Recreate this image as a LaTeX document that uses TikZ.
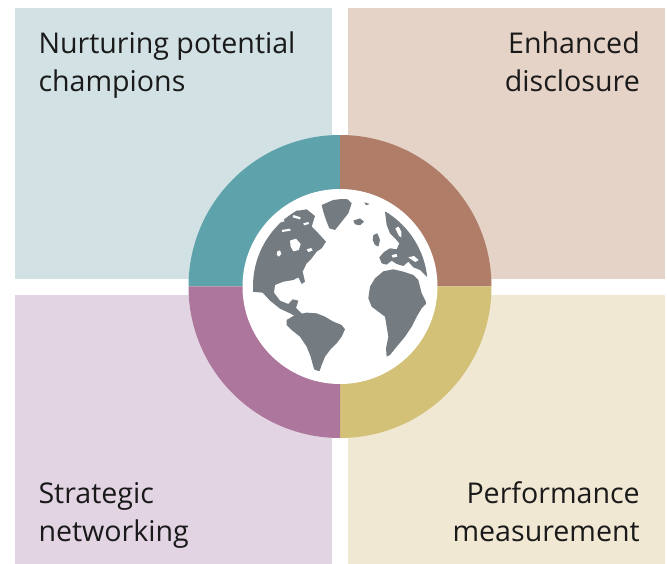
\documentclass[tikz,border=0pt]{standalone}
\usepackage{fontspec}
\setmainfont{Open Sans}
\definecolor{panelTL}{HTML}{D2E1E4}
\definecolor{panelTR}{HTML}{E5D3C7}
\definecolor{panelBL}{HTML}{E3D4E3}
\definecolor{panelBR}{HTML}{F1E8D4}
\definecolor{ringTL}{HTML}{5EA3AC}
\definecolor{ringTR}{HTML}{B07D68}
\definecolor{ringBL}{HTML}{AD779D}
\definecolor{ringBR}{HTML}{D3C177}
\definecolor{landgrey}{HTML}{747C82}
\definecolor{inkdark}{HTML}{1A1A1A}
\tikzset{
  label text/.style={inner sep=0pt, text=inkdark, font=\fontsize{28.6}{38.5}\selectfont},
  land/.style={fill=landgrey},
  sea/.style={fill=white},
}
\newcommand{\twolinesL}[2]{\begin{tabular}[t]{@{}l@{}}#1\\#2\end{tabular}}
\newcommand{\twolinesR}[2]{\begin{tabular}[t]{@{}r@{}}#1\\#2\end{tabular}}
\begin{document}
\begin{tikzpicture}[x=1pt,y=-1pt]
\useasboundingbox (0,0) rectangle (667,564);
\fill[white] (0,0) rectangle (667,564);

% four background panels
\fill[panelTL] (15,8) rectangle (332,279);
\fill[panelTR] (348,8) rectangle (665,279);
\fill[panelBL] (15,295) rectangle (332,564);
\fill[panelBR] (348,295) rectangle (665,564);

% ring of four quarter segments
\coordinate (ctr) at (340,286.5);
\def\rout{151.5}
\fill[ringTL] (ctr) -- ++(180:\rout) arc[start angle=180, end angle=270, radius=\rout] -- cycle;
\fill[ringTR] (ctr) -- ++(270:\rout) arc[start angle=270, end angle=360, radius=\rout] -- cycle;
\fill[ringBR] (ctr) -- ++(0:\rout) arc[start angle=0, end angle=90, radius=\rout] -- cycle;
\fill[ringBL] (ctr) -- ++(90:\rout) arc[start angle=90, end angle=180, radius=\rout] -- cycle;
\fill[white] (ctr) circle[radius=97.5];

% globe
\begin{scope}[shift={(240,180)}, x=0.33333pt, y=-0.33333pt]
  \clip (301,319) circle[radius=262];
  % North America
  \fill[land] (0,60) -- (140,75) -- (175,92) -- (200,88) -- (225,108) -- (215,140)
    -- (235,160) -- (258,185) -- (245,205) -- (230,215) -- (215,235) -- (200,250)
    -- (188,275) -- (195,305) -- (185,312) -- (175,292) -- (160,300) -- (130,305)
    -- (105,315) -- (102,338) -- (120,362) -- (145,372) -- (158,358) -- (175,362)
    -- (168,384) -- (182,398) -- (196,410) -- (176,414) -- (150,400) -- (120,386)
    -- (90,362) -- (68,338) -- (0,332) -- cycle;
  % bays, straits and lakes
  \fill[sea] (150,182) -- (168,176) -- (182,192) -- (176,210) -- (160,214) -- (152,200) -- cycle;
  \fill[sea] (112,214) -- (120,211) -- (124,222) -- (116,230) -- (110,224) -- cycle;
  \fill[sea] (200,208) -- (214,204) -- (218,212) -- (205,216) -- cycle;
  \fill[sea] (100,125) -- (130,118) -- (134,124) -- (104,131) -- cycle;
  \fill[sea] (160,105) -- (182,112) -- (180,118) -- (158,112) -- cycle;
  \fill[sea] (190,130) -- (205,126) -- (207,132) -- (192,136) -- cycle;
  \fill[sea] (125,150) -- (150,146) -- (152,152) -- (127,156) -- cycle;
  % Greenland
  \fill[land] (245,75) -- (280,60) -- (320,55) -- (335,70) -- (325,100) -- (305,125)
    -- (285,150) -- (268,145) -- (258,120) -- (250,95) -- cycle;
  % Iceland and Svalbard
  \fill[land] (340,122) -- (360,115) -- (372,125) -- (360,136) -- (345,133) -- cycle;
  \fill[land] (372,65) -- (385,62) -- (390,72) -- (378,76) -- cycle;
  % Eurasia
  \fill[land] (435,95) -- (455,100) -- (475,120) -- (490,110) -- (520,110) -- (600,100)
    -- (600,300) -- (560,290) -- (540,270) -- (520,262) -- (505,245) -- (490,258)
    -- (470,252) -- (455,242) -- (440,254) -- (425,250) -- (418,232) -- (432,216)
    -- (450,205) -- (470,208) -- (478,190) -- (465,175) -- (450,160) -- (440,135) -- cycle;
  \fill[sea] (466,145) -- (476,140) -- (484,155) -- (484,172) -- (477,168) -- cycle;
  \fill[sea] (505,232) -- (522,228) -- (536,240) -- (526,246) -- cycle;
  \fill[sea] (455,225) -- (470,222) -- (472,230) -- (458,233) -- cycle;
  % British Isles
  \fill[land] (400,165) -- (412,160) -- (420,180) -- (415,200) -- (405,195) -- (398,180) -- cycle;
  % Africa
  \fill[land] (430,274) -- (460,268) -- (490,275) -- (520,285) -- (535,300) -- (545,340)
    -- (560,370) -- (545,385) -- (530,410) -- (515,440) -- (495,470) -- (470,500)
    -- (450,525) -- (440,530) -- (438,505) -- (445,470) -- (440,440) -- (435,410)
    -- (415,395) -- (395,380) -- (385,355) -- (390,320) -- (405,295) -- cycle;
  % South America
  \fill[land] (140,420) -- (165,405) -- (200,398) -- (230,400) -- (255,410) -- (280,425)
    -- (305,435) -- (315,448) -- (305,470) -- (290,490) -- (270,510) -- (255,530)
    -- (245,555) -- (238,575) -- (245,585) -- (230,583) -- (220,560) -- (212,530)
    -- (200,500) -- (180,470) -- (155,450) -- (140,435) -- cycle;
\end{scope}

% labels
\node[label text, anchor=base west] (nurture) at (38.3,53.3) {\twolinesL{Nurturing potential}{champions}};
\node[label text, anchor=base east] (disclose) at (640,53.3) {\twolinesR{Enhanced}{disclosure}};
\node[label text, anchor=base west] (network) at (38.3,503.3) {\twolinesL{Strategic}{networking}};
\node[label text, anchor=base east] (perform) at (640,503.3) {\twolinesR{Performance}{measurement}};
\end{tikzpicture}
\end{document}
